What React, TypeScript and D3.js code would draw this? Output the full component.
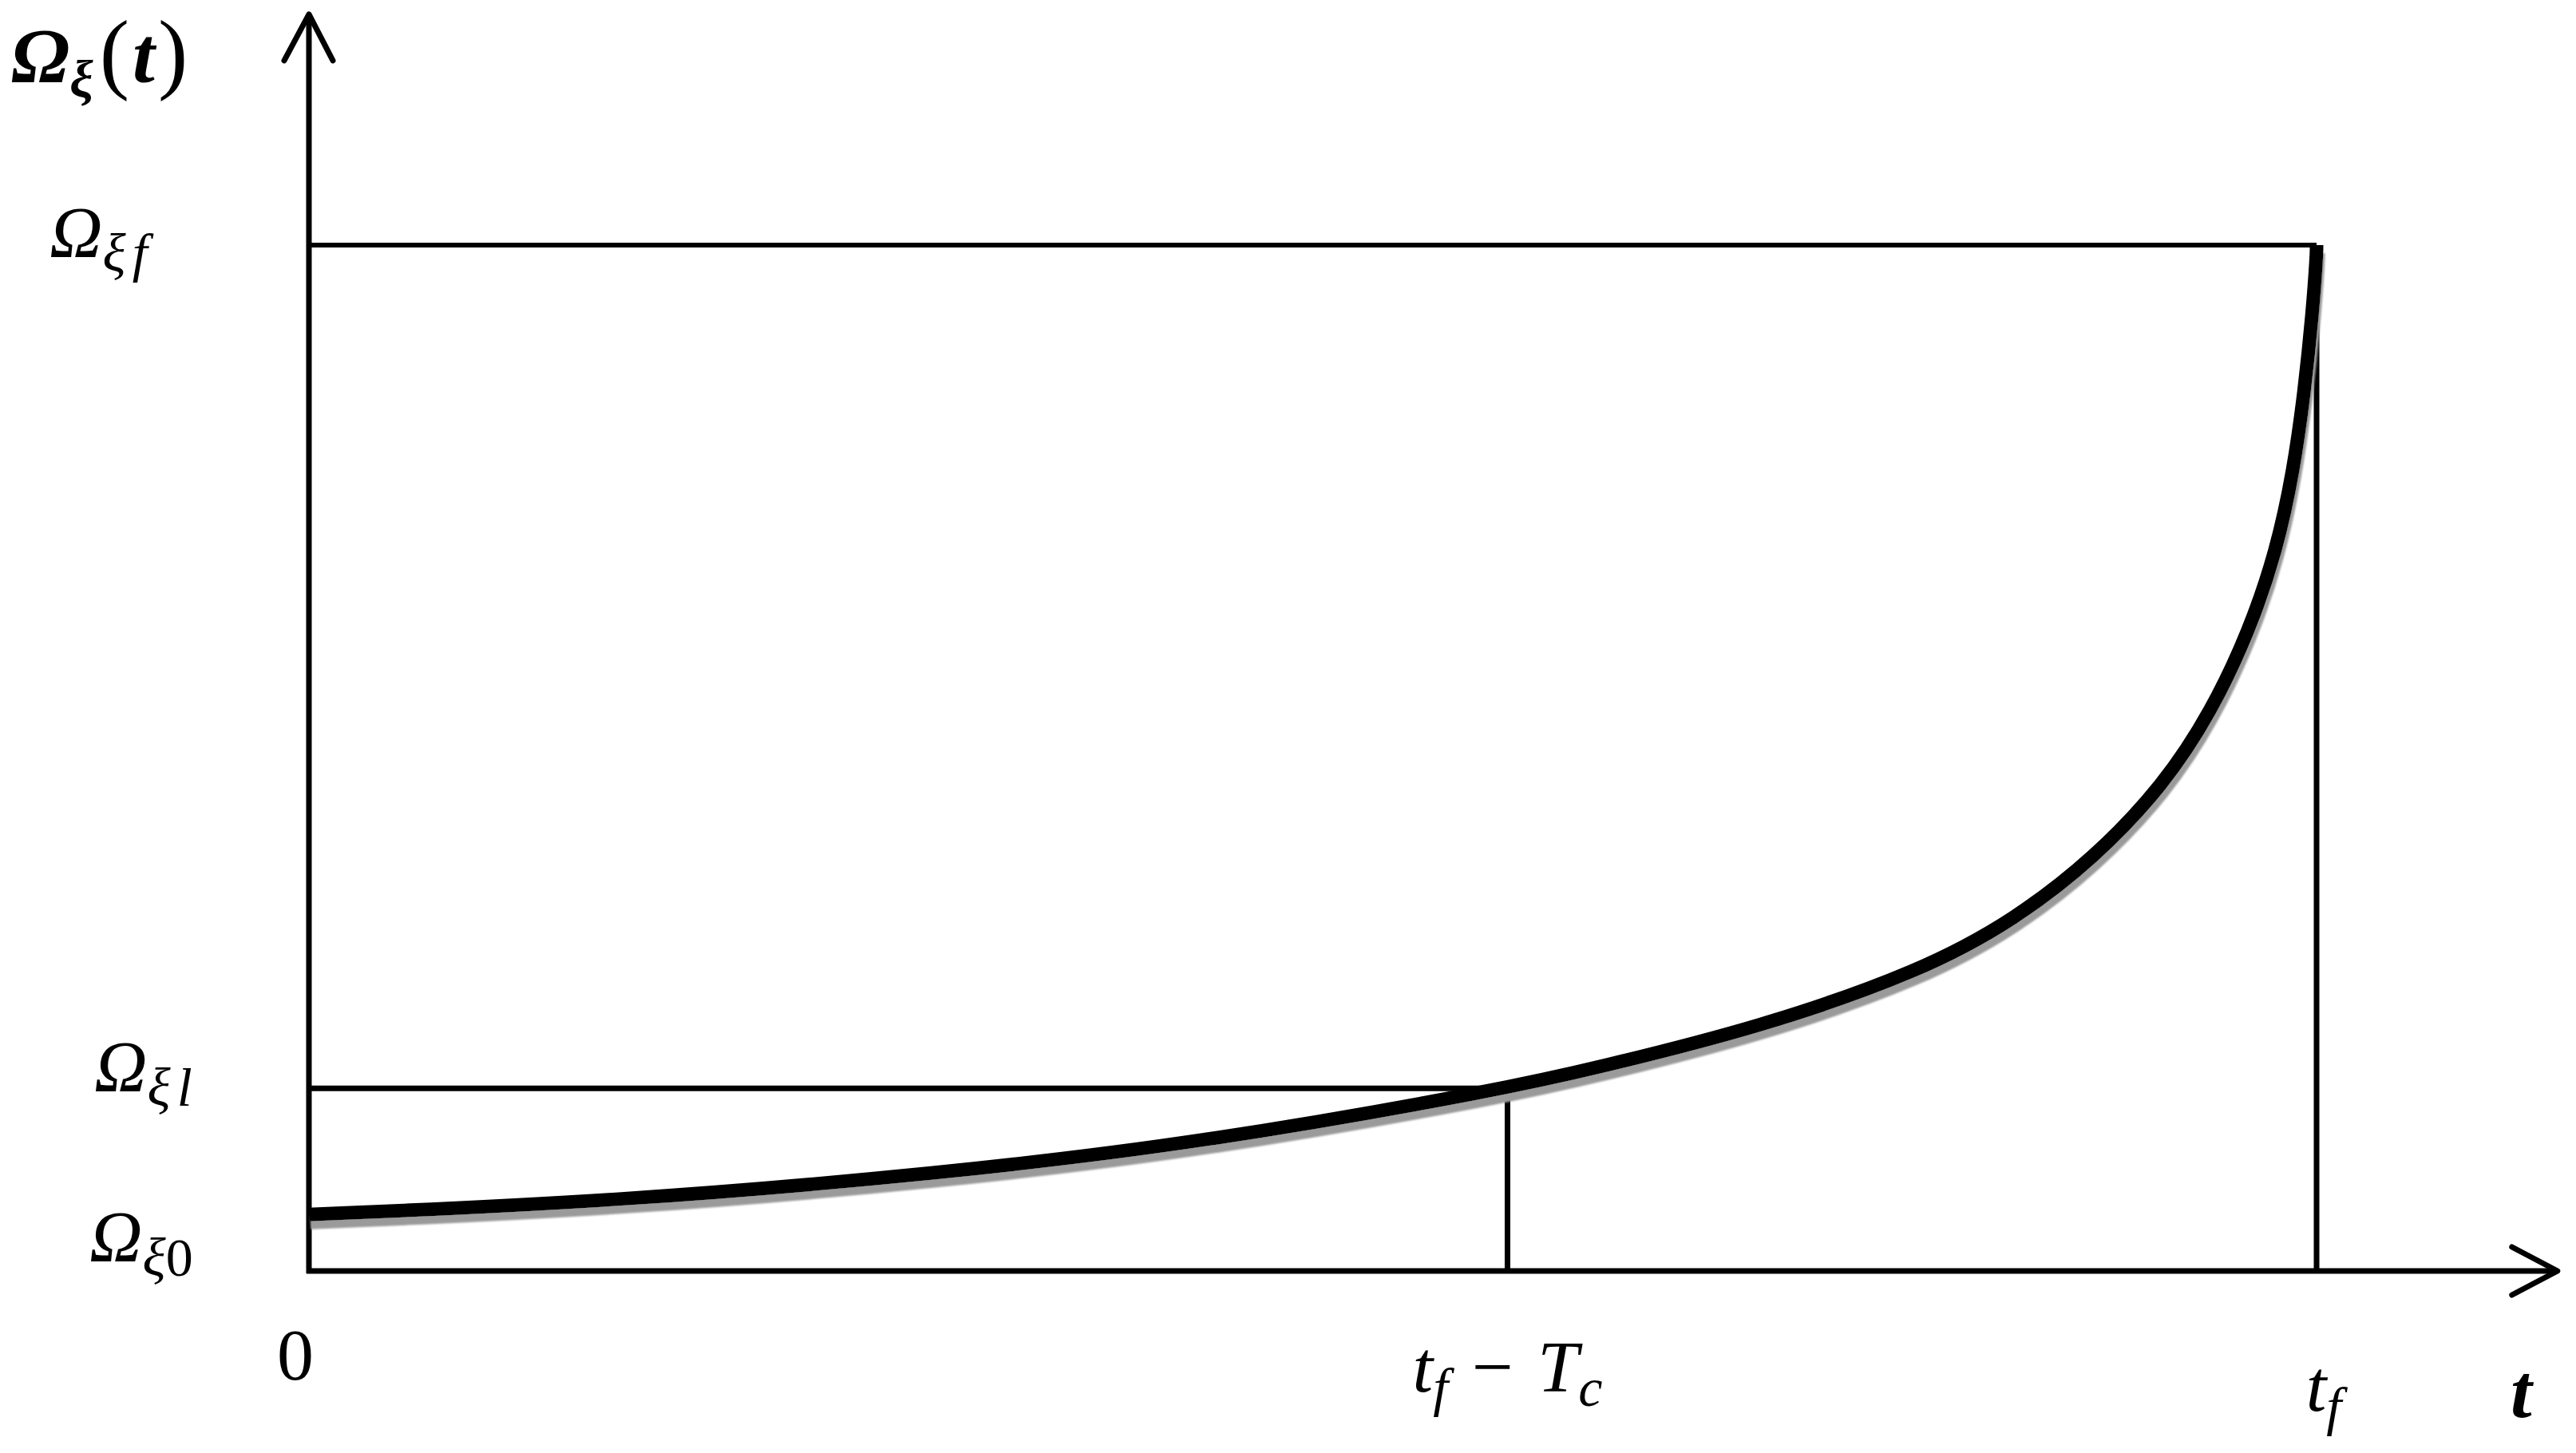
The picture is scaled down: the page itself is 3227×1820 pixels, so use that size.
import React from "react";
import * as d3 from "d3";

// curve samples (t in units where tf = 10, Omega where Omega_f = 10)
const curveT = [0, 1.55, 3.15, 4.45, 5.97, 6.41, 7.22, 8.04, 8.5, 8.89, 9.24, 9.475, 9.665, 9.8, 9.885, 9.94, 9.98, 10, 10];
const curveOmega = [0.55, 0.68, 0.95, 1.25, 1.78, 1.98, 2.37, 2.93, 3.43, 4.02, 4.74, 5.45, 6.24, 7.02, 7.8, 8.58, 9.35, 9.9, 10];

const T_F = 10;
const T_C = 4.03;
const T_MAX = 11.2;
const OMEGA_F = 10;
const OMEGA_L = 1.78;
const OMEGA_MAX = 12.25;

const xTicks = [0, T_F - T_C, T_F];
const yTicks = [0, OMEGA_L, OMEGA_F];

type Part = { s: string; it?: boolean; b?: boolean; sub?: boolean; dx?: number; size?: number };

// tick labels as runs of text (sub = subscript)
const xTickLabels: Part[][] = [
  [{ s: "0" }],
  [{ s: "t", it: true }, { s: "f", it: true, sub: true }, { s: "\u2212", dx: 30 }, { s: "T", it: true, dx: 30 }, { s: "c", it: true, sub: true }],
  [{ s: "t", it: true }, { s: "f", it: true, sub: true }],
];
const xTickShift = [-17, 0, 9];
const xTickBase = [136, 151, 175];

const yTickLabels: Part[][] = [
  [{ s: "\u03A9", it: true }, { s: "\u03BE", it: true, sub: true }, { s: "0", sub: true }],
  [{ s: "\u03A9", it: true }, { s: "\u03BE", it: true, sub: true }, { s: "l", it: true, sub: true, dx: 8 }],
  [{ s: "\u03A9", it: true }, { s: "\u03BE", it: true, sub: true }, { s: "f", it: true, sub: true, dx: 8 }],
];
const yTickX = [112, 118, 62];
const yTickDy = [-12, 4, 15];

const yTitle: Part[] = [
  { s: "\u03A9", it: true, b: true, size: 98 },
  { s: "\u03BE", it: true, b: true, sub: true, size: 66 },
  { s: "(", dx: 8, size: 112 },
  { s: "t", it: true, b: true, size: 100, dx: 4 },
  { s: ")", size: 112, dx: 4 },
];
const xTitle: Part[] = [{ s: "t", it: true, b: true, size: 96 }];

const FONT = "'Liberation Serif', 'DejaVu Serif', serif";
const SIZE = 92;
const SUB = 68;

function writeParts(text: any, parts: Part[]) {
  let down = false;
  parts.forEach((p) => {
    const ts = text.append("tspan")
      .attr("font-style", p.it ? "italic" : "normal")
      .attr("font-weight", p.b ? "bold" : "normal")
      .attr("font-size", p.size || (p.sub ? SUB : SIZE))
      .text(p.s);
    let dy = 0;
    if (p.sub && !down) { dy = 18; down = true; }
    if (!p.sub && down) { dy = -18; down = false; }
    if (dy) ts.attr("dy", dy);
    if (p.dx) ts.attr("dx", p.dx);
  });
}

const Chart = ({ width = 3227, height = 1820 }) => {
  const svgRef = React.useRef<SVGSVGElement>(null);

  React.useEffect(() => {
    while (svgRef.current!.firstChild) {
      svgRef.current!.removeChild(svgRef.current!.lastChild!);
    }
    const svg = d3.select(svgRef.current);

    const x = d3.scaleLinear().domain([0, T_F]).range([387, 2902]);
    const y = d3.scaleLinear().domain([0, OMEGA_F]).range([1592, 307]);

    const defs = svg.append("defs");
    const f = defs.append("filter").attr("id", "shadow")
      .attr("x", "-5%").attr("y", "-5%").attr("width", "110%").attr("height", "110%");
    f.append("feGaussianBlur").attr("in", "SourceAlpha").attr("stdDeviation", 1.2).attr("result", "b");
    f.append("feOffset").attr("in", "b").attr("dx", 2).attr("dy", 10).attr("result", "o");
    f.append("feFlood").attr("flood-color", "#9a9a9a");
    f.append("feComposite").attr("in2", "o").attr("operator", "in").attr("result", "s");
    const m = f.append("feMerge");
    m.append("feMergeNode").attr("in", "s");
    m.append("feMergeNode").attr("in", "SourceGraphic");

    const g = svg.append("g").attr("stroke", "#000").attr("fill", "none");

    // guide lines
    g.append("line").attr("x1", x(0)).attr("x2", x(T_F)).attr("y1", y(OMEGA_F)).attr("y2", y(OMEGA_F)).attr("stroke-width", 6);
    g.append("line").attr("x1", x(0)).attr("x2", x(T_F - T_C)).attr("y1", y(OMEGA_L)).attr("y2", y(OMEGA_L)).attr("stroke-width", 7);
    g.append("line").attr("x1", x(T_F - T_C)).attr("x2", x(T_F - T_C)).attr("y1", y(0)).attr("y2", y(OMEGA_L)).attr("stroke-width", 7);
    g.append("line").attr("x1", x(T_F)).attr("x2", x(T_F)).attr("y1", y(0)).attr("y2", y(OMEGA_F)).attr("stroke-width", 7);

    // axes
    g.append("line").attr("x1", x(0)).attr("x2", x(0)).attr("y1", y(0) + 3).attr("y2", y(OMEGA_MAX)).attr("stroke-width", 7);
    g.append("line").attr("x1", x(0) - 3).attr("x2", x(T_MAX)).attr("y1", y(0)).attr("y2", y(0)).attr("stroke-width", 7);
    g.append("path")
      .attr("d", `M${x(0) - 31},${y(OMEGA_MAX) + 58}L${x(0)},${y(OMEGA_MAX)}L${x(0) + 30},${y(OMEGA_MAX) + 58}`)
      .attr("stroke-width", 7).attr("stroke-linecap", "round").attr("stroke-linejoin", "round");
    g.append("path")
      .attr("d", `M${x(T_MAX) - 57},${y(0) - 30}L${x(T_MAX)},${y(0)}L${x(T_MAX) - 57},${y(0) + 30}`)
      .attr("stroke-width", 7).attr("stroke-linecap", "round").attr("stroke-linejoin", "round");

    // the curve
    const line = d3.line<number>()
      .x((d, i) => x(curveT[i]))
      .y((d) => y(d))
      .curve(d3.curveBasis);
    g.append("path")
      .attr("d", line(curveOmega))
      .attr("stroke-width", 17)
      .attr("stroke-linecap", "butt")
      .attr("filter", "url(#shadow)");

    // labels
    const lab = svg.append("g").attr("font-family", FONT).attr("fill", "#000");
    xTicks.forEach((v, i) => {
      const t = lab.append("text")
        .attr("x", x(v) + xTickShift[i])
        .attr("y", y(0) + xTickBase[i])
        .attr("text-anchor", "middle");
      writeParts(t, xTickLabels[i]);
    });
    yTicks.forEach((v, i) => {
      const t = lab.append("text")
        .attr("x", yTickX[i])
        .attr("y", y(v) + yTickDy[i]);
      writeParts(t, yTickLabels[i]);
    });
    writeParts(lab.append("text").attr("x", 14).attr("y", 103), yTitle);
    writeParts(lab.append("text").attr("x", 3145).attr("y", y(0) + 183), xTitle);
  }, [width, height]);

  return <svg ref={svgRef} width={width} height={height} style={{ position: "absolute", left: 0, top: 0, background: "#fff" }}></svg>;
};

export default function App() {
  return <Chart />;
}
